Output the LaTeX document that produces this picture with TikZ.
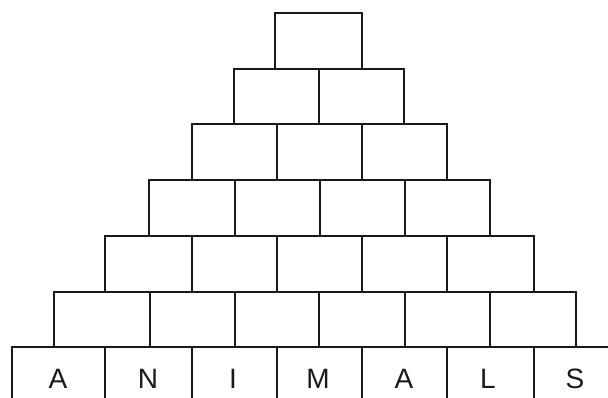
\documentclass[tikz,border=0pt]{standalone}
\usepackage{fontspec}
\setmainfont{Liberation Sans}
\begin{document}
\begin{tikzpicture}[x=1pt,y=-1pt,
  brick/.style={draw=black!90,line width=1.6pt,line cap=rect},
  letter/.style={anchor=base,inner sep=0pt,font=\fontsize{28}{28}\selectfont,text=black!90}]
\useasboundingbox (0,0) rectangle (608,398);
\clip (0,0) rectangle (608,398);
% row 1
\draw[brick] (275,13) rectangle (362,69);
% row 2
\foreach \a/\b in {234/319,319/404} \draw[brick] (\a,69) rectangle (\b,124);
% row 3
\foreach \a/\b in {192/277,277/362,362/447} \draw[brick] (\a,124) rectangle (\b,180);
% row 4
\foreach \a/\b in {149/235,235/320,320/405,405/490} \draw[brick] (\a,180) rectangle (\b,236);
% row 5
\foreach \a/\b in {105/192,192/277,277/362,362/447,447/534} \draw[brick] (\a,236) rectangle (\b,292);
% row 6
\foreach \a/\b in {54/150,150/235,235/319,319/405,405/490,490/576} \draw[brick] (\a,292) rectangle (\b,347);
% row 7
\foreach \a/\b in {12/105,105/192,192/277,277/362,362/447,447/534,534/630} \draw[brick] (\a,347) rectangle (\b,420);
% letters
\node[letter] (l1) at (58,388) {A};
\node[letter] (l2) at (148,388) {N};
\node[letter] (l3) at (233,388) {I};
\node[letter] (l4) at (318,388) {M};
\node[letter] (l5) at (404,388) {A};
\node[letter] (l6) at (488,388) {L};
\node[letter] (l7) at (575,388) {S};
\end{tikzpicture}
\end{document}
